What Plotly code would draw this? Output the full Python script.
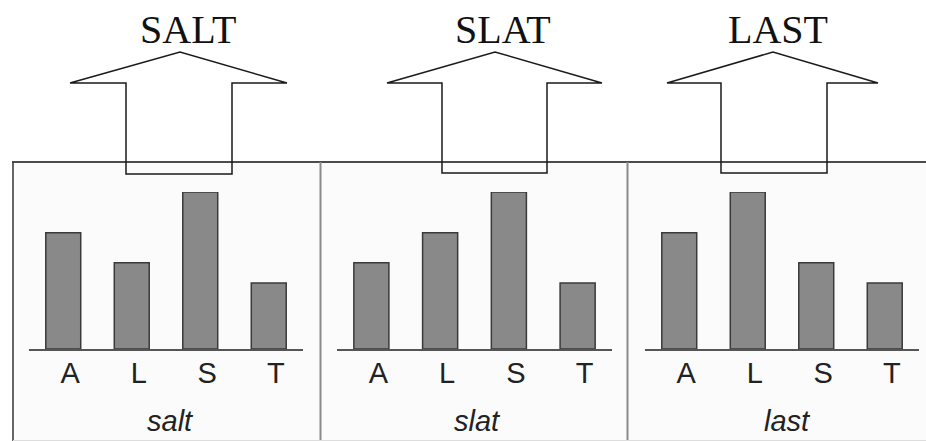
import plotly.graph_objects as go

W, H = 926, 441
OX, OY = 0, 0

letters = ["A", "L", "S", "T"]
words = ["salt", "slat", "last"]
titles = ["SALT", "SLAT", "LAST"]
salt_vals = [0.74, 0.55, 1.00, 0.42]
slat_vals = [0.55, 0.74, 1.00, 0.42]
last_vals = [0.74, 1.00, 0.55, 0.42]
series = [salt_vals, slat_vals, last_vals]


def X(px):
    return (px - OX) / W


def Y(py):
    return 1 - (py - OY) / H


# layout geometry (page pixels)
bar_domains = [(29, 303), (337, 612), (645, 919)]
base_y, top_y = 349, 192
word_x = [170, 477, 787]
title_x = [188, 503, 778]
arrows = [  # tip_x, barb_left, barb_right, shaft_left, shaft_right, bottom
    (180, 70, 287, 126, 232, 174),
    (495, 387, 602, 442, 547, 173),
    (773, 667, 878, 721, 827, 173),
]

fig = go.Figure()
shapes = []
annotations = []

# panel backgrounds
for x0, x1 in [(13, 320), (321, 627), (628, 926)]:
    shapes.append(dict(type="rect", xref="paper", yref="paper",
                       x0=X(x0), x1=X(x1), y0=Y(441), y1=Y(162),
                       fillcolor="#fbfbfb", line=dict(width=0), layer="below"))

layout_axes = {}
for i, (vals, (d0, d1)) in enumerate(zip(series, bar_domains)):
    n = i + 1
    xa = "x" if n == 1 else f"x{n}"
    ya = "y" if n == 1 else f"y{n}"
    fig.add_trace(go.Bar(
        x=letters, y=vals, xaxis=xa, yaxis=ya, width=0.51,
        marker=dict(color="#898989", line=dict(color="#3a3a3a", width=1.5)),
        showlegend=False, hoverinfo="skip"))
    xkey = "xaxis" if n == 1 else f"xaxis{n}"
    ykey = "yaxis" if n == 1 else f"yaxis{n}"
    layout_axes[xkey] = dict(
        domain=[X(d0), X(d1)], anchor=ya, type="category",
        categoryorder="array", categoryarray=letters,
        range=[-0.5, 3.5], showline=True, linecolor="#555555", linewidth=1.5,
        showgrid=False, zeroline=False, ticks="", fixedrange=True,
        tickfont=dict(family="Liberation Sans, Arial", size=29, color="#222222"),
        ticklabelshift=7, ticklabelstandoff=-3)
    layout_axes[ykey] = dict(
        domain=[Y(base_y), Y(top_y)], anchor=xa, range=[0, 1],
        visible=False, fixedrange=True)
    annotations.append(dict(
        text=f"<i>{words[i]}</i>", xref="paper", yref="paper",
        x=X(word_x[i]), y=Y(421), xanchor="center", yanchor="middle",
        showarrow=False,
        font=dict(family="Liberation Sans, Arial", size=29, color="#222222")))
    annotations.append(dict(
        text=titles[i], xref="paper", yref="paper",
        x=X(title_x[i]), y=Y(29), xanchor="center", yanchor="middle",
        showarrow=False,
        font=dict(family="Liberation Serif, Times New Roman", size=40,
                  color="#111111")))

# top line and panel borders
shapes.append(dict(type="line", xref="paper", yref="paper",
                   x0=X(12), x1=X(926), y0=Y(162), y1=Y(162),
                   line=dict(color="#111111", width=1.5)))
shapes.append(dict(type="line", xref="paper", yref="paper",
                   x0=X(13), x1=X(13), y0=Y(162), y1=Y(441),
                   line=dict(color="#333333", width=1.5)))
for xd in (320.5, 627.5):
    shapes.append(dict(type="line", xref="paper", yref="paper",
                       x0=X(xd), x1=X(xd), y0=Y(162), y1=Y(441),
                       line=dict(color="#8a8a8a", width=2)))
shapes.append(dict(type="line", xref="paper", yref="paper",
                   x0=X(13), x1=X(926), y0=Y(440.5), y1=Y(440.5),
                   line=dict(color="#dddddd", width=1)))

# arrows
for tip, bl, br, sl, sr, bot in arrows:
    pts = [(bl, 83), (tip, 52), (br, 83), (sr, 83), (sr, bot), (sl, bot), (sl, 83)]
    path = "M " + " L ".join(f"{X(px):.5f},{Y(py):.5f}" for px, py in pts) + " Z"
    shapes.append(dict(type="path", xref="paper", yref="paper", path=path,
                       line=dict(color="#1a1a1a", width=1.5),
                       fillcolor="rgba(0,0,0,0)"))

fig.update_layout(
    width=W, height=H, margin=dict(l=0, r=0, t=0, b=0),
    paper_bgcolor="white", plot_bgcolor="rgba(0,0,0,0)",
    shapes=shapes, annotations=annotations, bargap=0.49,
    **layout_axes)

fig.write_html(
    "out.html", config=dict(displayModeBar=False),
    post_script="document.body.style.margin='0';document.body.style.overflow='hidden';")
